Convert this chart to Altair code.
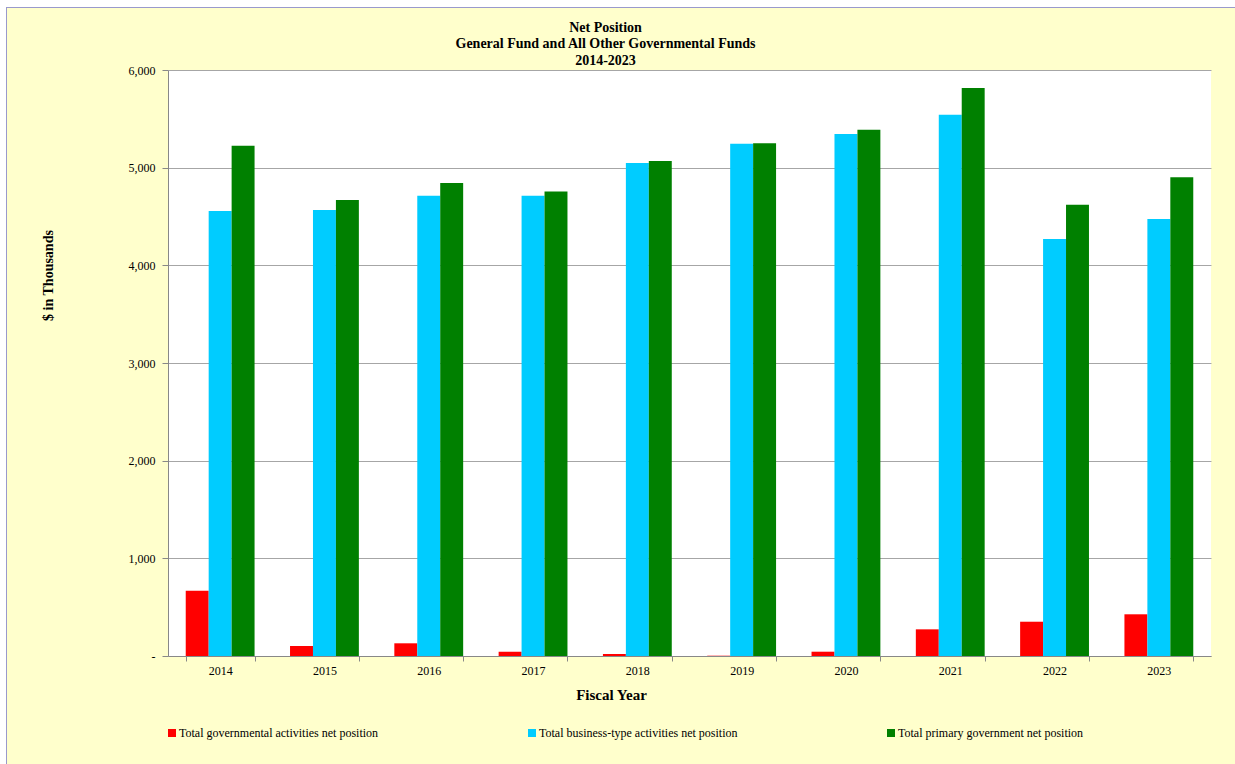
import altair as alt
import pandas as pd

years = ["2014", "2015", "2016", "2017", "2018", "2019", "2020", "2021", "2022", "2023"]
series = [
    "Total governmental activities net position",
    "Total business-type activities net position",
    "Total primary government net position",
]
governmental = [669, 102, 130, 44, 20, 3, 44, 273, 351, 427]
business = [4556, 4566, 4713, 4713, 5048, 5246, 5345, 5543, 4269, 4474]
primary = [5225, 4668, 4843, 4757, 5068, 5249, 5389, 5816, 4620, 4901]
colors = ["#FF0000", "#00CCFF", "#008000"]
y_ticks = [0, 1000, 2000, 3000, 4000, 5000, 6000]

rows = []
for vals, s in zip([governmental, business, primary], series):
    for yr, v in zip(years, vals):
        rows.append({"year": yr, "series": s, "value": v})
df = pd.DataFrame(rows)

W, H = 1043, 586
PAD_L, PAD_T, PAD_R, PAD_B = 168, 70, 24, 108
FONT = "Liberation Serif"

frame_df = pd.DataFrame({"k": [0]})

# white strips outside the yellow frame, and the frame's border lines
strip_left = alt.Chart(frame_df).mark_rect(fill="white").encode(
    x=alt.value(-PAD_L), x2=alt.value(-PAD_L + 6),
    y=alt.value(-PAD_T), y2=alt.value(H + PAD_B),
)
strip_top = alt.Chart(frame_df).mark_rect(fill="white").encode(
    x=alt.value(-PAD_L), x2=alt.value(W + PAD_R),
    y=alt.value(-PAD_T), y2=alt.value(-PAD_T + 7),
)
border_left = alt.Chart(frame_df).mark_rule(color="#9999CC", strokeWidth=1).encode(
    x=alt.value(-PAD_L + 6.5), y=alt.value(-PAD_T + 7), y2=alt.value(H + PAD_B),
)
border_top = alt.Chart(frame_df).mark_rule(color="#9999CC", strokeWidth=1).encode(
    y=alt.value(-PAD_T + 7.5), x=alt.value(-PAD_L + 6), x2=alt.value(W + PAD_R),
)

bars = alt.Chart(df).mark_bar().encode(
    x=alt.X(
        "year:N",
        sort=years,
        scale=alt.Scale(paddingInner=0.34, paddingOuter=0.17),
        axis=alt.Axis(
            title="Fiscal Year",
            titleFont=FONT, titleFontSize=15, titleFontWeight="bold", titleColor="black",
            titleX=443, titleY=38, titleBaseline="middle", titleAlign="center", titleAnchor=None,
            labelFont=FONT, labelFontSize=12, labelColor="black", labelAngle=0,
            labelPadding=4, tickBand="extent", tickSize=5, tickColor="#888888",
            domainColor="#888888", grid=False,
        ),
    ),
    xOffset=alt.XOffset("series:N", sort=series),
    y=alt.Y(
        "value:Q",
        scale=alt.Scale(domain=[0, 6000], nice=False),
        axis=alt.Axis(
            title="$ in Thousands",
            titleFont=FONT, titleFontSize=14, titleFontWeight="bold", titleColor="black",
            titleAngle=270, titleX=-120, titleY=205, titleBaseline="middle", titleAlign="center",
            values=y_ticks,
            labelExpr="datum.value == 0 ? '-' : format(datum.value, ',')",
            labelFont=FONT, labelFontSize=12, labelColor="black", labelPadding=7,
            tickSize=6, tickColor="#888888", domainColor="#888888",
            grid=True, gridColor="#A6A6A6", gridWidth=1,
        ),
    ),
    color=alt.Color(
        "series:N",
        sort=series,
        scale=alt.Scale(domain=series, range=colors),
        legend=alt.Legend(
            title=None, orient="none", legendX=-2, legendY=657,
            direction="horizontal", columns=3, columnPadding=147,
            symbolType="square", symbolSize=64, symbolStrokeWidth=0, symbolOffset=0,
            labelFont=FONT, labelFontSize=12, labelColor="black", labelOffset=1,
            labelLimit=400,
        ),
    ),
)

chart = alt.layer(strip_left, strip_top, border_left, border_top, bars).properties(
    width=W,
    height=H,
    padding={"left": PAD_L, "top": PAD_T, "right": PAD_R, "bottom": PAD_B},
    autosize=alt.AutoSizeParams(type="none"),
    background="#FFFFCC",
    title=alt.TitleParams(
        text=["Net Position", "General Fund and All Other Governmental Funds", "2014-2023"],
        font=FONT, fontSize=14, fontWeight="bold", color="black",
        anchor="middle", dx=-84, dy=67.5, offset=0, lineHeight=16.5,
    ),
).configure_view(strokeWidth=0, fill="white")

chart.save("out.html", embed_options={"renderer": "svg", "actions": False})
